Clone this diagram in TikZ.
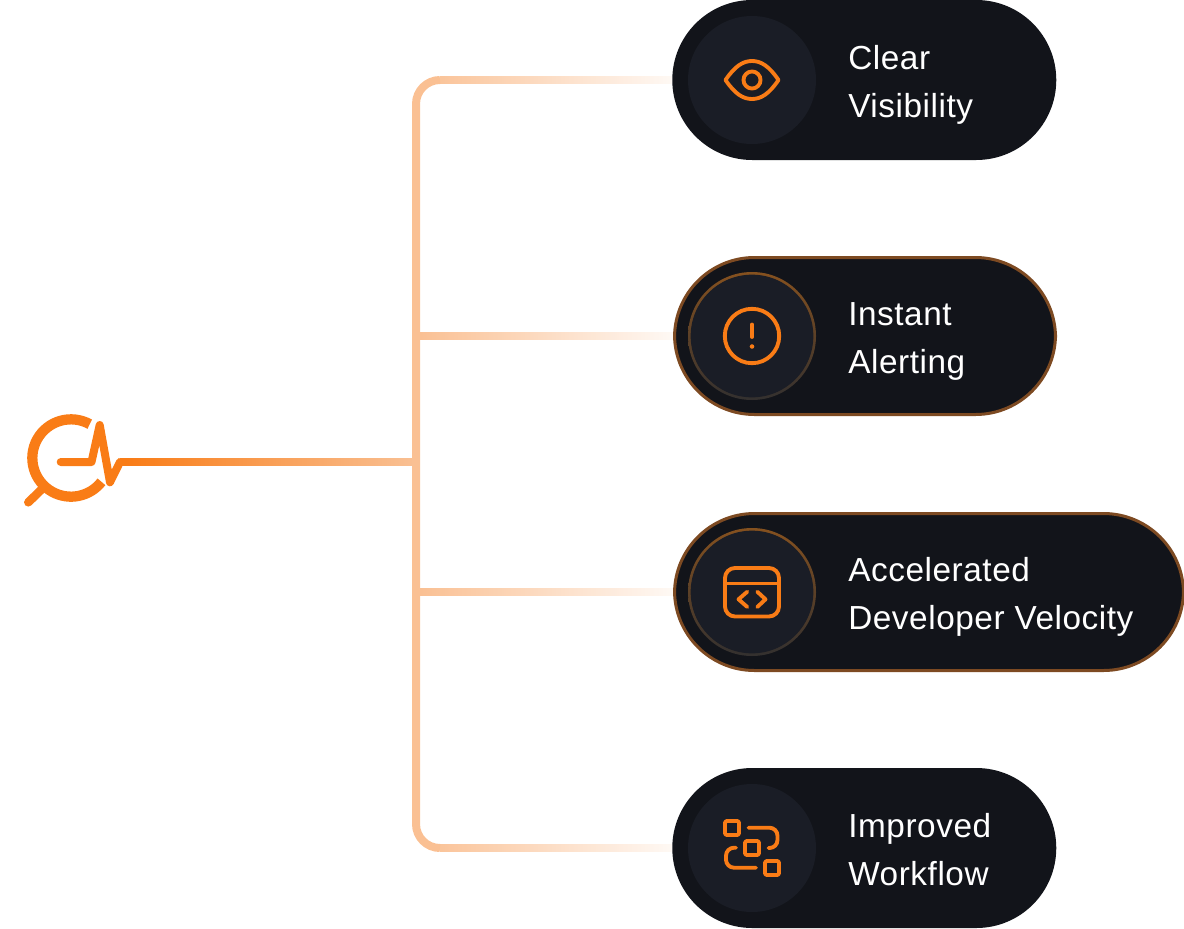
\documentclass[tikz,border=0pt]{standalone}
\usepackage{fontspec}
\setmainfont{Liberation Sans}[LetterSpace=1.7]
\usetikzlibrary{calc,fadings,shadings}
\definecolor{pillbg}{HTML}{12141A}
\definecolor{discbg}{HTML}{1A1D26}
\definecolor{accent}{HTML}{F97C16}
\definecolor{connpeach}{HTML}{FAC093}
\definecolor{glowedge}{HTML}{7D4A22}
\definecolor{ringtop}{HTML}{85511F}
\definecolor{ringbot}{HTML}{33302F}
\tikzfading[name=connfade,left color=transparent!0,right color=transparent!100]
\tikzset{
	pill/.style={draw=none,fill=pillbg,rectangle,rounded corners=60pt,minimum height=120pt,minimum width=288pt,inner sep=0pt},
	glowpill/.style={pill,draw=glowedge,line width=2.25pt,minimum height=117.75pt,minimum width=285.75pt},
	disc/.style={circle,fill=discbg,minimum size=96pt,inner sep=0pt},
	ringdisc/.style={disc,minimum size=92pt},
	label/.style={anchor=west,align=left,text=white,inner sep=0pt,font=\fontsize{25}{36}\selectfont},
	conn/.style={line width=6pt,connpeach},
	fadeconn/.style={conn,path fading=connfade,fit fading=false,fading transform={shift={(#1)},xscale=4.2}},
	icon/.style={accent,line width=2.9pt,line cap=round,line join=round}
}
\begin{document}
\begin{tikzpicture}[x=.75pt,y=-.75pt]
	\useasboundingbox (0,0) rectangle (1184,928);
	\coordinate (pulseend) at (120,462);
	\coordinate (junction) at (416,462);
	\coordinate (trunktop) at (440,80);
	\coordinate (trunkbot) at (440,848);
	\node[pill,anchor=west] (clear) at (672,80) {};
	\node[glowpill,anchor=west] (alert) at (673,336) {};
	\node[glowpill,minimum width=381.75pt,anchor=west] (accel) at (673,592) {};
	\node[pill,anchor=west] (improve) at (672,848) {};
	% branches
	\draw[conn,rounded corners=18pt](trunktop)--(416,80)--(416,848)--(trunkbot);
	\draw[conn](pulseend)--(junction);
	\draw[accent,line width=6pt,path fading=connfade,fit fading=false,fading transform={shift={($(pulseend)!.5!(junction)$)},xscale=4.3}](pulseend)--(junction);
	\draw[fadeconn={560,80}](trunktop)--(clear.west);
	\draw[fadeconn={560,336}](420,336)--(alert.west);
	\draw[fadeconn={560,592}](420,592)--(accel.west);
	\draw[fadeconn={560,848}](trunkbot)--(improve.west);
	\shade[top color=ringtop,bottom color=ringbot] (752,336) circle (48pt);
	\shade[top color=ringtop,bottom color=ringbot] (752,592) circle (48pt);
	\node[disc] (cleardisc) at (752,80) {};
	\node[ringdisc] (alertdisc) at (752,336) {};
	\node[ringdisc] (acceldisc) at (752,592) {};
	\node[disc] (improvedisc) at (752,848) {};
	\node[label] (clearlabel) at (848,85) {Clear\\Visibility};
	\node[label] (alertlabel) at (848,341) {Instant\\Alerting};
	\node[label] (accellabel) at (848,597) {Accelerated\\Developer Velocity};
	\node[label] (improvelabel) at (848,850) {Improved\\Workflow};
	% logo
	\draw[accent,line width=7.7pt](71,458)++(61:29pt) arc[start angle=61,end angle=322,radius=29pt];
	\draw[accent,line width=6.4pt,line cap=round](28.3,502.3)--(41.7,489.3);
	\draw[accent,line width=6pt,line cap=round,line join=round](60.7,462)--(91.5,462)--(99.7,425)--(110,482.3)--(pulseend);
	% eye
	\draw[icon](725.5,80).. controls (735,66) and (743,61) .. (752,61).. controls (761,61) and (769,66) .. (778.5,80).. controls (769,94) and (761,99) .. (752,99).. controls (743,99) and (735,94) .. (725.5,80)--cycle;
	\draw[icon](752,80) circle (6.4pt);
	% alert
	\draw[icon](752,336) circle (20.4pt);
	\draw[icon](752,324.5)--(752,337);
	\fill[accent](752,346.5) circle (1.7pt);
	% code window
	\draw[icon,rounded corners=7.5pt](725,568) rectangle (779,616.5);
	\draw[icon](725,583.5)--(779,583.5);
	\draw[icon](747.3,591.7)--(738.5,599.3)--(747.3,607);
	\draw[icon](757.3,591.7)--(765.5,599.3)--(757.3,607);
	% workflow
	\foreach \cx/\cy in {732/828,752/848,772/868}
		\draw[icon,rounded corners=1.5pt](\cx-7,\cy-7) rectangle (\cx+7,\cy+7);
	\draw[icon,rounded corners=6pt](748.5,827.7)--(777.5,827.7)--(777.5,848)--(768.5,848);
	\draw[icon,rounded corners=6pt](736,847.7)--(726,847.7)--(726,867.7)--(756,867.7);
\end{tikzpicture}
\end{document}
